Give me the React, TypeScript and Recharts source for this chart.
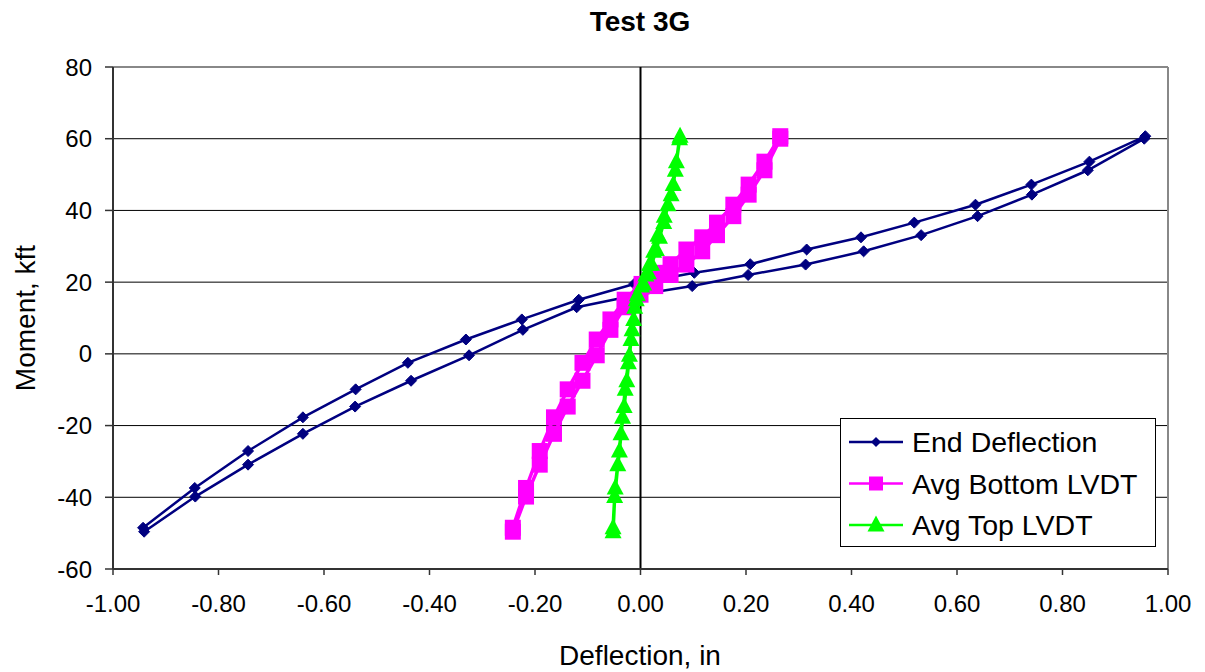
import React from 'react';
import { LineChart, Line, XAxis, YAxis, CartesianGrid, ReferenceLine, Legend } from 'recharts';

// Moment (kft) at each load step: loading branch then unloading branch
const momentUp = [-49.6, -39.8, -30.9, -22.3, -14.7, -7.5, -0.4, 6.7, 13.0, 16.5, 18.9, 22.0, 24.9, 28.6, 33.1, 38.4, 44.4, 51.2, 60.0];
const momentDown = [60.7, 53.6, 47.2, 41.6, 36.6, 32.5, 29.1, 25.0, 22.6, 19.5, 15.1, 9.6, 4.0, -2.5, -9.9, -17.7, -27.1, -37.4, -48.5];

// Deflection (in) for each series
const endDefUp = [-0.941, -0.844, -0.744, -0.640, -0.541, -0.435, -0.325, -0.223, -0.121, -0.005, 0.098, 0.204, 0.313, 0.423, 0.532, 0.639, 0.742, 0.848, 0.955];
const endDefDown = [0.957, 0.851, 0.741, 0.635, 0.519, 0.418, 0.315, 0.208, 0.102, -0.012, -0.117, -0.225, -0.331, -0.441, -0.540, -0.640, -0.744, -0.845, -0.943];

const bottomUp = [-0.242, -0.217, -0.191, -0.164, -0.138, -0.110, -0.083, -0.057, -0.030, 0.000, 0.028, 0.057, 0.087, 0.117, 0.145, 0.176, 0.205, 0.235, 0.265];
const bottomDown = [0.265, 0.235, 0.205, 0.176, 0.145, 0.117, 0.087, 0.057, 0.028, 0.002, -0.030, -0.057, -0.083, -0.110, -0.138, -0.164, -0.191, -0.217, -0.242];

const topUp = [-0.052, -0.049, -0.043, -0.037, -0.031, -0.026, -0.021, -0.016, -0.011, -0.006, 0.002, 0.010, 0.017, 0.025, 0.033, 0.045, 0.058, 0.066, 0.074];
const topDown = [0.075, 0.068, 0.062, 0.052, 0.044, 0.036, 0.030, 0.021, 0.015, 0.006, -0.008, -0.013, -0.018, -0.023, -0.029, -0.034, -0.040, -0.048, -0.052];

const xTicks = [-1, -0.8, -0.6, -0.4, -0.2, 0, 0.2, 0.4, 0.6, 0.8, 1];
const yTicks = [-60, -40, -20, 0, 20, 40, 60, 80];

const seriesNames = ['End Deflection', 'Avg Bottom LVDT', 'Avg Top LVDT'];
const seriesColors = ['#000080', '#FF00FF', '#00FF00'];

const build = (up: number[], down: number[]) => [
  ...up.map((x, i) => ({ x, y: momentUp[i] })),
  ...down.map((x, i) => ({ x, y: momentDown[i] })),
];

const endData = build(endDefUp, endDefDown);
const bottomData = build(bottomUp, bottomDown);
const topData = build(topUp, topDown);

const FONT = '"Liberation Sans", Arial, sans-serif';

const diamondPts = (cx: number, cy: number, r: number) =>
  `${cx},${cy - r} ${cx + r},${cy} ${cx},${cy + r} ${cx - r},${cy}`;
const trianglePts = (cx: number, cy: number) =>
  `${cx},${cy - 9.5} ${cx + 8.5},${cy + 6.5} ${cx - 8.5},${cy + 6.5}`;

const DiamondDot = (p: any) => (
  <polygon key={`d${p.index}`} points={diamondPts(p.cx, p.cy, 5.5)} fill={seriesColors[0]} stroke={seriesColors[0]} />
);
const SquareDot = (p: any) => (
  <rect key={`s${p.index}`} x={p.cx - 8} y={p.cy - 8} width={16} height={16} fill={seriesColors[1]} />
);
const TriangleDot = (p: any) => (
  <polygon key={`t${p.index}`} points={trianglePts(p.cx, p.cy)} fill={seriesColors[2]} />
);

const LegendBox = () => (
  <svg width={316} height={129} style={{ display: 'block' }}>
    <rect x={0.5} y={0.5} width={315} height={128} fill="#fff" stroke="#000" strokeWidth={1} />
    {seriesNames.map((name, i) => {
      const cy = 24 + i * 41.5;
      return (
        <g key={name}>
          <line x1={9} x2={63} y1={cy} y2={cy} stroke={seriesColors[i]} strokeWidth={2.5} />
          {i === 0 && <polygon points={diamondPts(36, cy, 5)} fill={seriesColors[0]} />}
          {i === 1 && <rect x={29} y={cy - 7} width={14} height={14} fill={seriesColors[1]} />}
          {i === 2 && <polygon points={trianglePts(36, cy)} fill={seriesColors[2]} />}
          <text x={72} y={cy} dominantBaseline="central" fontSize={28.5} fontFamily={FONT} fill="#000">
            {name}
          </text>
        </g>
      );
    })}
  </svg>
);

const YLabel = () => (
  <text x={17} y={310} transform="rotate(-90 17 310)" textAnchor="middle" dominantBaseline="central"
    fontSize={28} fontFamily={FONT} fill="#000">Moment, kft</text>
);
const XLabel = () => (
  <text x={632} y={647} textAnchor="middle" dominantBaseline="central"
    fontSize={28} fontFamily={FONT} fill="#000">Deflection, in</text>
);

export default function App() {
  return (
    <div style={{ position: 'relative', width: 1189, height: 664, fontFamily: FONT }}>
      <div style={{ position: 'absolute', left: 532, top: 0, width: 200, textAlign: 'center', fontSize: 28,
        fontWeight: 'bold', lineHeight: '28px', fontFamily: FONT, color: '#000' }}>Test 3G</div>
      <LineChart width={1189} height={664} margin={{ top: 59, right: 29, left: 0, bottom: 13 }}>
        <CartesianGrid vertical={false} stroke="#000" strokeWidth={1} />
        <XAxis type="number" dataKey="x" domain={[-1, 1]} ticks={xTicks} allowDataOverflow
          tickFormatter={(v: number) => v.toFixed(2)} height={90}
          axisLine={{ stroke: '#333', strokeWidth: 2 }} tickLine={{ stroke: '#333', strokeWidth: 1.5 }}
          tickSize={6} tickMargin={20} tick={{ fill: '#000', fontSize: 24, fontFamily: FONT }}
          label={<XLabel />} interval={0} />
        <YAxis type="number" dataKey="y" domain={[-60, 80]} ticks={yTicks} allowDataOverflow width={105}
          axisLine={{ stroke: '#333', strokeWidth: 2 }} tickLine={{ stroke: '#333', strokeWidth: 1.5 }}
          tickSize={8} tickMargin={13} tick={{ fill: '#000', fontSize: 24, fontFamily: FONT }}
          label={<YLabel />} interval={0} />
        <ReferenceLine y={80} stroke="#888" strokeWidth={2} />
        <ReferenceLine x={1} stroke="#888" strokeWidth={2} />
        <Line data={endData} dataKey="y" name={seriesNames[0]} type="linear" stroke={seriesColors[0]}
          strokeWidth={2.5} dot={DiamondDot} activeDot={false} isAnimationActive={false} />
        <Line data={bottomData} dataKey="y" name={seriesNames[1]} type="linear" stroke={seriesColors[1]}
          strokeWidth={3.5} dot={SquareDot} activeDot={false} isAnimationActive={false} />
        <Line data={topData} dataKey="y" name={seriesNames[2]} type="linear" stroke={seriesColors[2]}
          strokeWidth={3.5} dot={TriangleDot} activeDot={false} isAnimationActive={false} />
        <ReferenceLine x={0} stroke="#000" strokeWidth={2} />
        <Legend layout="vertical" align="center" verticalAlign="middle" content={<LegendBox />}
          wrapperStyle={{ position: 'absolute', left: 832, top: 410, width: 316, height: 129 }} />
      </LineChart>
    </div>
  );
}
